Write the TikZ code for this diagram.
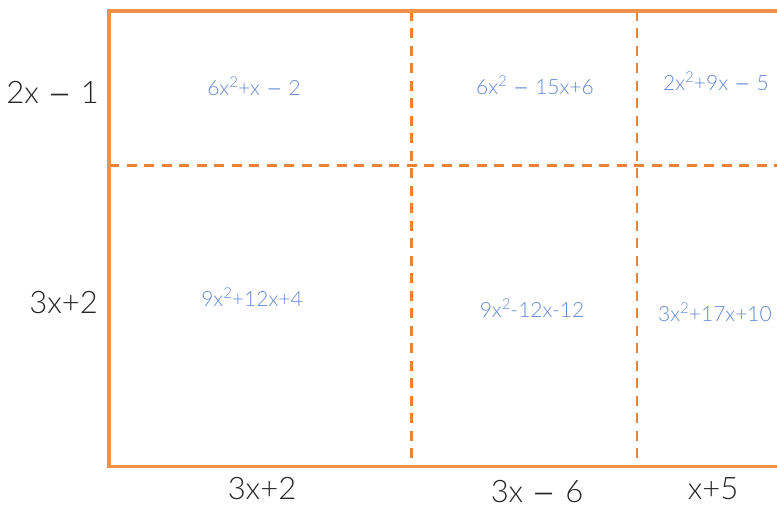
\documentclass[tikz,border=0pt]{standalone}
\usepackage{fontspec}
\usepackage{graphicx}
\setmainfont{Lato Light}
\definecolor{borderor}{HTML}{F2914A}
\definecolor{dashor}{HTML}{EC8234}
\definecolor{polyblue}{HTML}{6489D6}
\newcommand{\mn}{\raisebox{-0.14em}{\scalebox{1.4}[1.5]{–}}}
\newcommand{\sq}{\raisebox{0.42em}{\fontsize{15}{16}\selectfont 2}}
\begin{document}
\begin{tikzpicture}[x=1pt,y=-1pt,
  frame/.style={draw=borderor,line width=3.5pt},
  divider/.style={draw=dashor,line width=2.8pt,dash pattern=on 10pt off 7.5pt},
  factor/.style={anchor=base,inner sep=0pt,text depth=0pt,font=\fontsize{31}{33}\selectfont,text=black!85},
  product/.style={anchor=base,inner sep=0pt,font=\fontsize{21}{23}\selectfont,text=polyblue}]
\useasboundingbox (0,0) rectangle (777,510);
\coordinate (tl) at (109,11);
\coordinate (tr) at (777,11);
\coordinate (bl) at (109,466.5);
\coordinate (br) at (777,466.5);
\coordinate (v1t) at (411.5,11);
\coordinate (v1b) at (411.5,466.5);
\coordinate (v2t) at (637,11);
\coordinate (v2b) at (637,466.5);
\coordinate (hl) at (109,165.5);
\coordinate (hr) at (777,165.5);
\draw[divider] (v1t) -- (v1b);
\draw[divider] (v2t) -- (v2b);
\draw[divider] (hl) -- (hr);
\draw[frame] (tr) -- (tl) -- (bl) -- (br);
\node[factor,anchor=base east] (r1) at (99,104) {2x \mn{} 1};
\node[factor,anchor=base east] (r2) at (98,314) {3x+2};
\node[factor] (c1) at (262,500) {3x+2};
\node[factor] (c2) at (537,503) {3x \mn{} 6};
\node[factor] (c3) at (713,500) {x+5};
\node[product] (p11) at (254,96) {6x\sq+x \mn{} 2};
\node[product] (p12) at (535,95) {6x\sq{} \mn{} 15x+6};
\node[product] (p13) at (716,91) {2x\sq+9x \mn{} 5};
\node[product] (p21) at (252,307) {9x\sq+12x+4};
\node[product] (p22) at (532,318) {9x\sq-12x-12};
\node[product] (p23) at (715,322) {3x\sq+17x+10};
\end{tikzpicture}
\end{document}
